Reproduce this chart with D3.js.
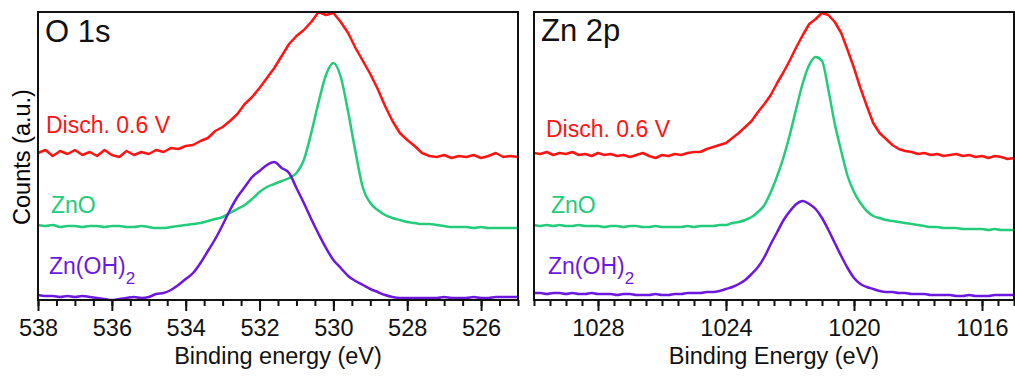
<!DOCTYPE html>
<html>
<head>
<meta charset="utf-8">
<script src="https://cdn.jsdelivr.net/npm/d3@7"></script>
<style>
body { margin: 0; background: #fff; }
svg text { font-family: Arial, "Liberation Sans", Helvetica, sans-serif; }
</style>
</head>
<body>
<div id="demo"></div>
<script>

// O 1s : energy grid 538 -> 525 eV, 0.2 eV step (66 points)
var o1sEnergy = d3.range(66).map(function(i){ return +(538 - 0.2 * i).toFixed(1); });
var o1sDisch = [147,150,144,149,146,150,145,148,144,150, 145,143,149,145,148,146,150,148,152,151,
	154,155,159,162,169,173,179,186,196,203, 212,222,232,244,256,264,270,278,288,285,
	287,278,267,252,239,226,211,194,179,167, 160,154,147,144,143,145,142,144,143,145,
	142,144,147,143,144,143];
var o1sZnO = [75,74,75,73,74,74,73,74,74,73, 74,74,73,73,74,73,72,72,73,74,
	75,76,77,79,81,83,87,91,95,101, 108,113,116,119,122,127,140,167,198,225,
	237,223,188,148,112,97,90,85,82,80, 78,77,76,76,75,74,73,73,73,72,
	73,72,72,72,72,72];
var o1sZnOH2 = [5,4,4,3,4,3,4,3,2,1, 0,1,2,3,2,3,6,7,10,15,
	21,27,37,49,61,75,90,103,113,123, 129,135,138,132,127,112,97,81,66,52,
	40,32,24,19,15,11,8,5,3,2, 2,2,2,2,2,3,2,2,2,3,
	2,2,3,3,3,3];

// Zn 2p : energy grid 1030 -> 1015 eV, 0.2 eV step (76 points)
var zn2pEnergy = d3.range(76).map(function(i){ return +(1030 - 0.2 * i).toFixed(1); });
var zn2pDisch = [147,146,148,145,147,146,148,145,146,144, 147,145,146,144,145,143,145,147,144,142,
	145,144,146,145,147,148,148,151,153,155, 157,162,167,173,179,188,196,205,217,228,
	240,253,265,276,281,287,285,278,267,250, 232,212,194,177,167,161,155,151,149,148,
	146,147,145,146,144,145,146,144,145,143, 144,142,144,143,141,142];
var zn2pZnO = [75,74,75,74,75,74,74,75,74,74, 74,73,74,74,73,74,74,73,73,74,
	73,73,73,73,74,73,74,74,74,75, 75,77,78,80,83,88,95,108,124,143,
	166,192,217,235,243,239,210,176,149,124, 108,97,89,84,82,80,79,78,77,76,
	75,74,73,73,72,72,72,71,71,71, 71,70,71,70,70,70];
var zn2pZnOH2 = [7,7,6,7,7,6,7,6,6,7, 6,6,6,5,6,6,5,5,5,6,
	5,5,6,6,7,7,7,8,8,9, 11,13,16,20,26,33,43,56,68,80,
	89,96,99,96,91,82,70,57,44,32, 22,16,13,11,9,8,8,7,7,6,
	6,6,5,5,5,5,4,4,5,4, 4,4,5,5,5,5];

// tick labels
var o1sTicks = [538, 536, 534, 532, 530, 528, 526];
var zn2pTicks = [1028, 1024, 1020, 1016];

var seriesNames = ['Disch. 0.6 V', 'ZnO', 'Zn(OH)'];
var colors = ['#ff1414', '#22cc7a', '#6c18e0'];

createSvg();

function createSvg(){

	var svg = d3.select('#demo').append('svg')
		.attr('width', 1015)
		.attr('height', 377);

	var yScale = d3.scaleLinear()
		.domain([0, 288])
		.range([300, 12]);

	// left : O 1s
	drawPanel(svg, yScale, {
		left: 38, right: 518,
		domain: [538, 525],
		ticks: o1sTicks,
		energy: o1sEnergy,
		series: [o1sDisch, o1sZnO, o1sZnOH2],
		title: 'O 1s', titleX: 45, titleY: 42,
		xLabel: 'Binding energy (eV)',
		labelPos: [[46, 133], [51, 213], [49, 274]]
	});

	// right : Zn 2p
	drawPanel(svg, yScale, {
		left: 534, right: 1014,
		domain: [1030, 1015],
		ticks: zn2pTicks,
		energy: zn2pEnergy,
		series: [zn2pDisch, zn2pZnO, zn2pZnOH2],
		title: 'Zn 2p', titleX: 541, titleY: 41,
		xLabel: 'Binding Energy (eV)',
		labelPos: [[546, 137], [551, 213], [548, 274]]
	});

	// y axis title
	svg.append('text')
		.attr('transform', 'translate(30,157) rotate(-90)')
		.attr('text-anchor', 'middle')
		.style('font-size', '23.5px')
		.text('Counts (a.u.)');
}


function drawPanel(svg, yScale, p){

	var xScale = d3.scaleLinear()
		.domain(p.domain)
		.range([p.left, p.right]);

	var g = svg.append('g');

	// minor ticks every 0.5 eV
	var minor = d3.range(Math.ceil(p.domain[1] * 2), Math.floor(p.domain[0] * 2) + 1)
		.map(function(d){ return d / 2; });
	var minorAxis = g.append('g')
		.attr('transform', 'translate(0,300)')
		.call(d3.axisBottom(xScale).tickValues(minor).tickSize(6).tickFormat(''));
	minorAxis.select('.domain').remove();

	var majorAxis = g.append('g')
		.attr('transform', 'translate(0,300)')
		.call(d3.axisBottom(xScale).tickValues(p.ticks).tickSize(11).tickPadding(8).tickFormat(d3.format('d')));
	majorAxis.select('.domain').remove();
	majorAxis.selectAll('text')
		.style('font-size', '23.5px')
		.attr('fill', '#111');

	g.selectAll('.tick line')
		.attr('stroke', '#111')
		.attr('stroke-width', 2);

	// spectra (noisy discharge trace drawn straight, references smoothed)
	p.series.forEach(function(vals, i){
		var line = d3.line()
			.curve(i == 0 ? d3.curveLinear : d3.curveMonotoneX)
			.x(function(d) { return xScale(d[0]); })
			.y(function(d) { return yScale(d[1]); });
		g.append('path')
			.attr('d', line(p.energy.map(function(e, j){ return [e, vals[j]]; })))
			.attr('stroke', colors[i])
			.attr('stroke-width', 2.5)
			.attr('stroke-linejoin', 'round')
			.attr('fill', 'none');
	});

	// frame
	g.append('rect')
		.attr('x', p.left)
		.attr('y', 12)
		.attr('width', p.right - p.left)
		.attr('height', 288)
		.attr('fill', 'none')
		.attr('stroke', '#111')
		.attr('stroke-width', 2);

	// series labels
	seriesNames.forEach(function(name, i){
		var t = g.append('text')
			.attr('x', p.labelPos[i][0])
			.attr('y', p.labelPos[i][1])
			.attr('fill', colors[i])
			.style('font-size', '23px')
			.text(name);
		if (i == 2) {
			t.append('tspan')
				.attr('dy', 10)
				.style('font-size', '17px')
				.text('2');
		}
	});

	// panel title
	g.append('text')
		.attr('x', p.titleX)
		.attr('y', p.titleY)
		.style('font-size', '31px')
		.attr('fill', '#111')
		.text(p.title);

	// x axis title
	g.append('text')
		.attr('x', (p.left + p.right) / 2)
		.attr('y', 364)
		.attr('text-anchor', 'middle')
		.style('font-size', '23.5px')
		.attr('fill', '#111')
		.text(p.xLabel);
}
</script>
</body>
</html>
